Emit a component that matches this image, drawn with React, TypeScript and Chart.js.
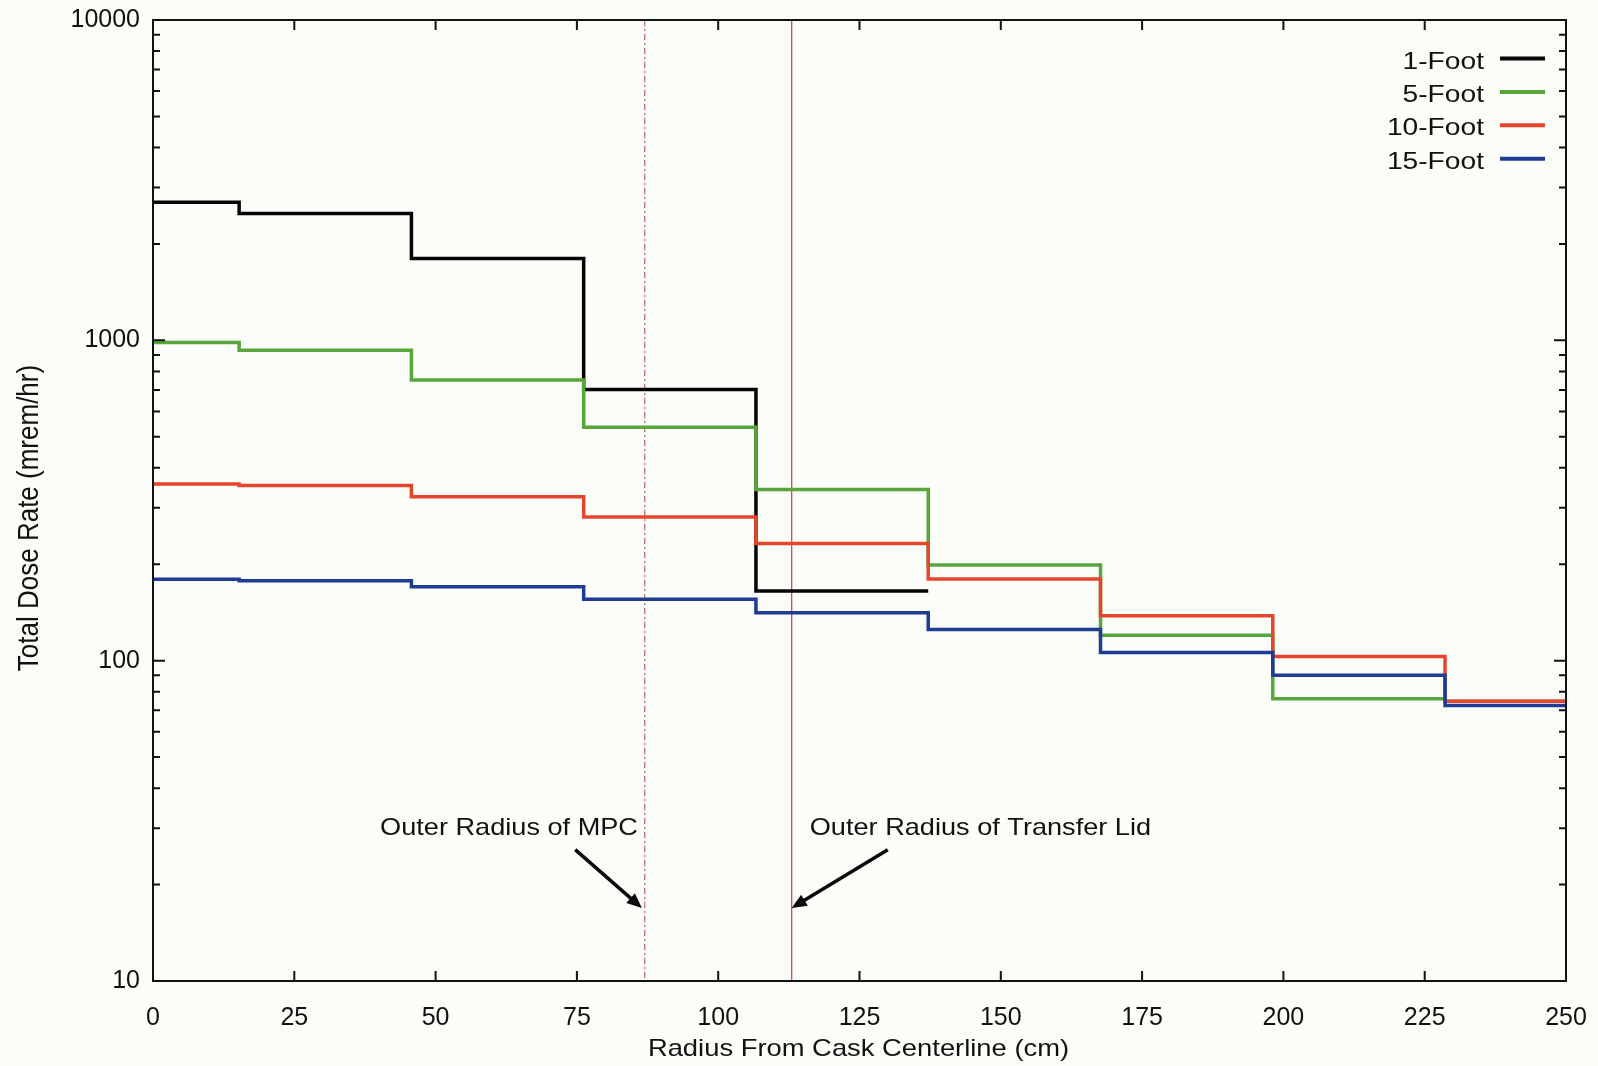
import React, { useEffect, useRef } from 'react';
import { Chart, registerables } from 'chart.js';

Chart.register(...registerables);

// ---- data ----
const stepEdges = [0, 15.24, 45.72, 76.2, 106.68, 137.16, 167.64, 198.12, 228.6, 250];
const seriesNames = ['1-Foot', '5-Foot', '10-Foot', '15-Foot'];
const oneFoot = [2700, 2490, 1800, 702, 165];
const fiveFoot = [985, 931, 752, 535, 342, 199, 120, 76, 74.7];
const tenFoot = [356, 352, 325, 281, 232, 180, 138, 103, 74.7];
const fifteenFoot = [179.5, 177.5, 170, 155.5, 141, 125, 106, 90, 72.4];
const seriesValues = [oneFoot, fiveFoot, tenFoot, fifteenFoot];
const seriesColors = ['#050505', '#58a53c', '#e5452c', '#1f3b94'];

const xTicks = [0, 25, 50, 75, 100, 125, 150, 175, 200, 225, 250];
const yMajorTicks = [10, 100, 1000, 10000];
const yMinorMultipliers = [2, 3, 4, 5, 6, 7, 8, 9];

const markerMPC = 87;
const markerLid = 113;
const annotationTexts = ['Outer Radius of MPC', 'Outer Radius of Transfer Lid'];
const annotationAnchors = [
  { x: 85.8, y: 28.6 },
  { x: 116.2, y: 28.6 },
];
const arrowStarts = [
  { x: 74.7, y: 25.7 },
  { x: 130.0, y: 25.7 },
];
const arrowEnds = [
  { x: 86.5, y: 16.9 },
  { x: 113.0, y: 16.9 },
];

const xTitle = 'Radius From Cask Centerline (cm)';
const yTitle = 'Total Dose Rate (mrem/hr)';

const FONT = "'Liberation Sans', Arial, Helvetica, sans-serif";
const STRETCH = 1.15;

function toSteps(values: number[]) {
  const pts = values.map((v, i) => ({ x: stepEdges[i], y: v }));
  pts.push({ x: stepEdges[values.length], y: values[values.length - 1] });
  return pts;
}

function stretchedText(
  ctx: CanvasRenderingContext2D,
  text: string,
  x: number,
  y: number,
  align: CanvasTextAlign,
  size: number,
  rotate = 0
) {
  ctx.save();
  ctx.translate(x, y);
  if (rotate) {
    ctx.rotate(rotate);
    ctx.scale(1, STRETCH);
  } else {
    ctx.scale(STRETCH, 1);
  }
  ctx.font = `${size}px ${FONT}`;
  ctx.fillStyle = '#111111';
  ctx.textAlign = align;
  ctx.textBaseline = 'alphabetic';
  ctx.fillText(text, 0, 0);
  ctx.restore();
}

function drawArrow(ctx: CanvasRenderingContext2D, x1: number, y1: number, x2: number, y2: number) {
  const ang = Math.atan2(y2 - y1, x2 - x1);
  const head = 15;
  const hw = 6.5;
  const c = Math.cos(ang);
  const s = Math.sin(ang);
  ctx.save();
  ctx.strokeStyle = '#0a0a0a';
  ctx.fillStyle = '#0a0a0a';
  ctx.lineWidth = 3.5;
  ctx.lineCap = 'butt';
  ctx.beginPath();
  ctx.moveTo(x1, y1);
  ctx.lineTo(x2 - head * 0.8 * c, y2 - head * 0.8 * s);
  ctx.stroke();
  ctx.beginPath();
  ctx.moveTo(x2, y2);
  ctx.lineTo(x2 - head * c + hw * s, y2 - head * s - hw * c);
  ctx.lineTo(x2 - head * c - hw * s, y2 - head * s + hw * c);
  ctx.closePath();
  ctx.fill();
  ctx.restore();
}

const decorPlugin = {
  id: 'decor',
  beforeDraw(chart: any) {
    const ctx = chart.ctx as CanvasRenderingContext2D;
    ctx.save();
    ctx.fillStyle = '#fbfdf8';
    ctx.fillRect(0, 0, chart.width, chart.height);
    ctx.restore();
  },
  beforeDatasetsDraw(chart: any) {
    const ctx = chart.ctx as CanvasRenderingContext2D;
    const { top, bottom } = chart.chartArea;
    const xs = chart.scales.x;
    ctx.save();
    const xm = xs.getPixelForValue(markerMPC);
    ctx.strokeStyle = '#b86868';
    ctx.lineWidth = 1.2;
    ctx.setLineDash([6, 3, 2, 3]);
    ctx.beginPath();
    ctx.moveTo(xm, top);
    ctx.lineTo(xm, bottom);
    ctx.stroke();
    const xl = xs.getPixelForValue(markerLid);
    ctx.setLineDash([]);
    ctx.strokeStyle = '#d8474a';
    ctx.lineWidth = 1.3;
    ctx.beginPath();
    ctx.moveTo(xl, top);
    ctx.lineTo(xl, bottom);
    ctx.stroke();
    ctx.restore();
  },
  afterDatasetsDraw(chart: any) {
    const ctx = chart.ctx as CanvasRenderingContext2D;
    const { left, right, top, bottom } = chart.chartArea;
    const xs = chart.scales.x;
    const ys = chart.scales.y;
    ctx.save();
    ctx.strokeStyle = '#111';
    ctx.lineWidth = 2;
    ctx.strokeRect(left, top, right - left, bottom - top);
    ctx.lineWidth = 2;
    ctx.beginPath();
    xTicks.forEach((v) => {
      const px = xs.getPixelForValue(v);
      ctx.moveTo(px, bottom);
      ctx.lineTo(px, bottom - 10);
      ctx.moveTo(px, top);
      ctx.lineTo(px, top + 10);
    });
    yMajorTicks.forEach((v, i) => {
      const py = ys.getPixelForValue(v);
      ctx.moveTo(left, py);
      ctx.lineTo(left + 12, py);
      ctx.moveTo(right, py);
      ctx.lineTo(right - 12, py);
      if (i < yMajorTicks.length - 1) {
        yMinorMultipliers.forEach((m) => {
          const pm = ys.getPixelForValue(v * m);
          ctx.moveTo(left, pm);
          ctx.lineTo(left + 7, pm);
          ctx.moveTo(right, pm);
          ctx.lineTo(right - 7, pm);
        });
      }
    });
    ctx.stroke();
    ctx.restore();

    arrowStarts.forEach((s, i) => {
      const e = arrowEnds[i];
      drawArrow(
        ctx,
        xs.getPixelForValue(s.x),
        ys.getPixelForValue(s.y),
        xs.getPixelForValue(e.x),
        ys.getPixelForValue(e.y)
      );
    });

    annotationTexts.forEach((t, i) => {
      const a = annotationAnchors[i];
      stretchedText(
        ctx,
        t,
        xs.getPixelForValue(a.x),
        ys.getPixelForValue(a.y),
        i === 0 ? 'right' : 'left',
        23.6
      );
    });

    seriesNames.forEach((name, i) => {
      const base = top + 48.5 + i * 33.4;
      stretchedText(ctx, name, right - 82, base, 'right', 24.5);
      ctx.save();
      ctx.strokeStyle = seriesColors[i];
      ctx.lineWidth = 4;
      ctx.beginPath();
      ctx.moveTo(right - 66, base - 10);
      ctx.lineTo(right - 21, base - 10);
      ctx.stroke();
      ctx.restore();
    });

    stretchedText(ctx, xTitle, (left + right) / 2 - 1, 1056, 'center', 23.8);
    stretchedText(ctx, yTitle, 38, 518, 'center', 26, -Math.PI / 2);
  },
};

export default function App() {
  const ref = useRef<HTMLCanvasElement>(null);
  useEffect(() => {
    const canvas = ref.current;
    if (!canvas) return;
    const chart = new Chart(canvas, {
      type: 'line',
      data: {
        datasets: seriesValues.map((vals, i) => ({
          label: seriesNames[i],
          data: toSteps(vals),
          borderColor: seriesColors[i],
          backgroundColor: seriesColors[i],
          borderWidth: 3.5,
          stepped: true,
          pointRadius: 0,
          fill: false,
          order: seriesValues.length - i,
        })),
      },
      options: {
        animation: false,
        responsive: true,
        maintainAspectRatio: false,
        layout: { padding: { top: 20, right: 32, left: 0, bottom: 0 } },
        plugins: {
          legend: { display: false },
          tooltip: { enabled: false },
        },
        scales: {
          x: {
            type: 'linear',
            min: 0,
            max: 250,
            afterFit: (s: any) => {
              s.height = 85;
              s.paddingLeft = 0;
              s.paddingRight = 0;
              s.paddingTop = 0;
              s.paddingBottom = 0;
            },
            grid: { display: false, drawTicks: false },
            border: { display: false },
            ticks: {
              stepSize: 25,
              padding: 22,
              color: '#111111',
              font: { family: FONT, size: 25 },
              maxRotation: 0,
              autoSkip: false,
            },
          },
          y: {
            type: 'logarithmic',
            min: 10,
            max: 10000,
            afterFit: (s: any) => {
              s.width = 153;
              s.paddingLeft = 0;
              s.paddingRight = 0;
              s.paddingTop = 0;
              s.paddingBottom = 0;
            },
            afterBuildTicks: (s: any) => {
              s.ticks = yMajorTicks.map((v) => ({ value: v }));
            },
            grid: { display: false, drawTicks: false },
            border: { display: false },
            ticks: {
              padding: 13,
              color: '#111111',
              font: { family: FONT, size: 25 },
              autoSkip: false,
              callback: (v: any) => String(v),
            },
          },
        },
      },
      plugins: [decorPlugin],
    } as any);
    return () => chart.destroy();
  }, []);
  return (
    <div style={{ position: 'fixed', left: 0, top: 0, width: 1598, height: 1066 }}>
      <canvas ref={ref} />
    </div>
  );
}
